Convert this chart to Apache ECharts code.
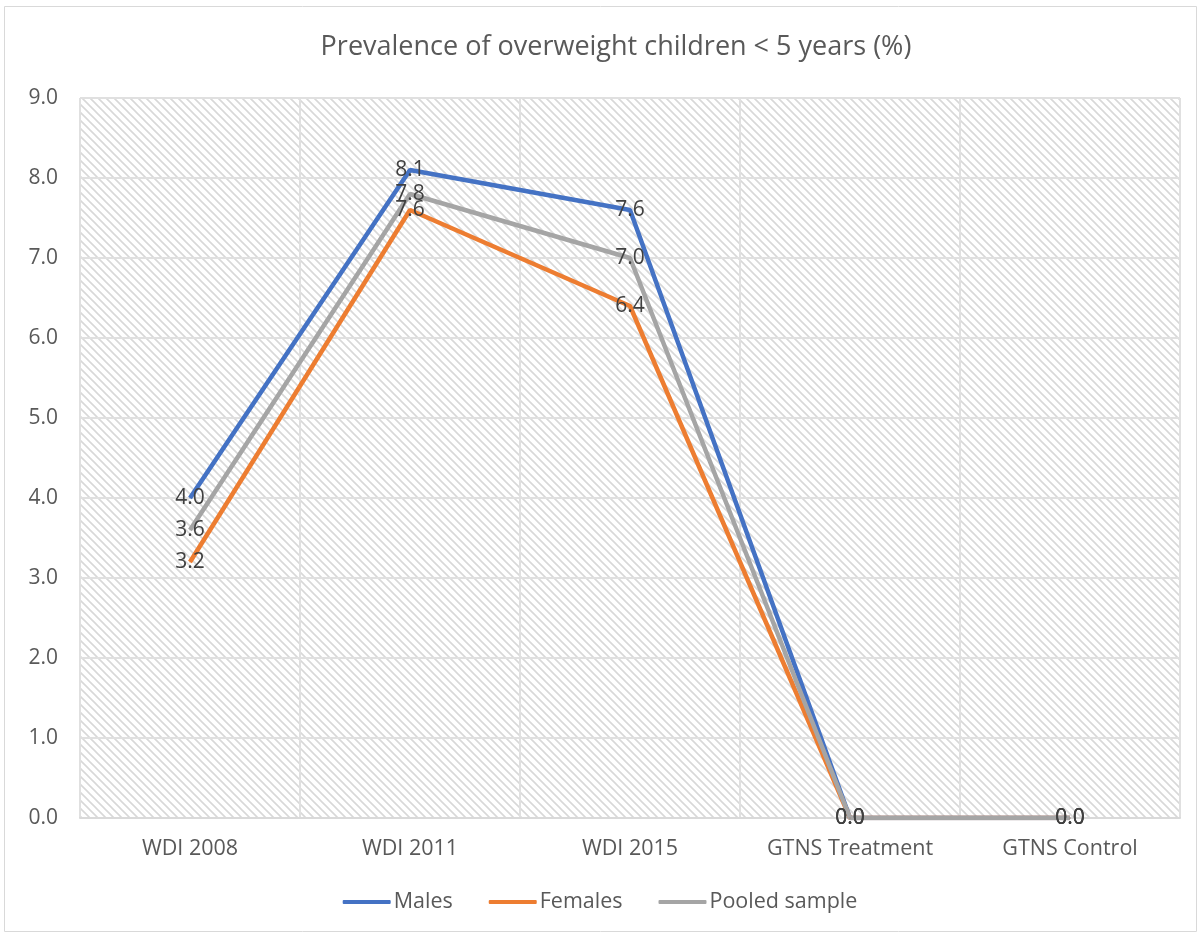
<!DOCTYPE html>
<html><head><meta charset="utf-8">
<script src="https://cdn.jsdelivr.net/npm/echarts@6/dist/echarts.min.js"></script>
<style>html,body{margin:0;padding:0;background:#fff}#c{width:1200px;height:934px}</style>
</head><body><div id="c"></div>
<script>
const categories = ['WDI 2008', 'WDI 2011', 'WDI 2015', 'GTNS Treatment', 'GTNS Control'];
const males = [4.0, 8.1, 7.6, 0.0, 0.0];
const females = [3.2, 7.6, 6.4, 0.0, 0.0];
const pooled = [3.6, 7.8, 7.0, 0.0, 0.0];
const titleText = 'Prevalence of overweight children < 5 years (%)';

const pc = document.createElement('canvas');
pc.width = 8; pc.height = 8;
const g = pc.getContext('2d');
g.strokeStyle = '#d8d8d8'; g.lineWidth = 1.6;
g.beginPath();
g.moveTo(-1, -1); g.lineTo(9, 9);
g.moveTo(-9, -1); g.lineTo(1, 9);
g.moveTo(7, -1); g.lineTo(17, 9);
g.stroke();

const font = '"Open Sans", "Noto Sans", sans-serif';
const lbl = {show: true, position: 'inside', color: '#404040', fontSize: 21, fontFamily: font,
  formatter: p => p.value.toFixed(1)};
function mk(name, data, color) {
  return {name, type: 'line', data, symbol: 'circle', symbolSize: 1, showSymbol: true,
    itemStyle: {color}, lineStyle: {color, width: 4.5}, label: lbl, labelLayout: {hideOverlap: false}};
}
const chart = echarts.init(document.getElementById('c'));
chart.setOption({
  animation: false,
  title: {text: titleText, left: 611, textAlign: 'center', top: 29,
    textStyle: {color: '#595959', fontSize: 27, fontWeight: 'normal', fontFamily: font}},
  grid: {left: 80, right: 20, top: 98, bottom: 116, show: true, borderWidth: 1, borderColor: '#d9d9d9',
    backgroundColor: {image: pc, repeat: 'repeat'}},
  legend: {bottom: 16, left: 'center', itemWidth: 48, itemHeight: 4, itemGap: 36,
    data: [{name: 'Males', icon: 'roundRect'}, {name: 'Females', icon: 'roundRect'}, {name: 'Pooled sample', icon: 'roundRect'}],
    textStyle: {color: '#595959', fontSize: 21.5, fontFamily: font, padding: [0, 0, 0, -2]}},
  xAxis: {type: 'category', data: categories, boundaryGap: true,
    axisLine: {lineStyle: {color: '#d9d9d9', width: 2}}, axisTick: {show: false},
    axisLabel: {color: '#595959', fontSize: 21.5, fontFamily: font, margin: 20},
    splitLine: {show: true, lineStyle: {color: '#e0e0e0', width: 2}}},
  yAxis: {type: 'value', min: 0, max: 9, interval: 1,
    axisLabel: {color: '#595959', fontSize: 21, fontFamily: font, margin: 22, formatter: v => v.toFixed(1)},
    axisLine: {show: false}, axisTick: {show: false},
    splitLine: {lineStyle: {color: '#e0e0e0', width: 2}}},
  graphic: [{type: 'rect', shape: {x: 4.5, y: 6.5, width: 1192, height: 925},
    style: {fill: 'none', stroke: '#d9d9d9', lineWidth: 1}, silent: true, z: -1}],
  series: [mk('Males', males, '#4472C4'), mk('Females', females, '#ED7D31'), mk('Pooled sample', pooled, '#A5A5A5')]
});
</script></body></html>
